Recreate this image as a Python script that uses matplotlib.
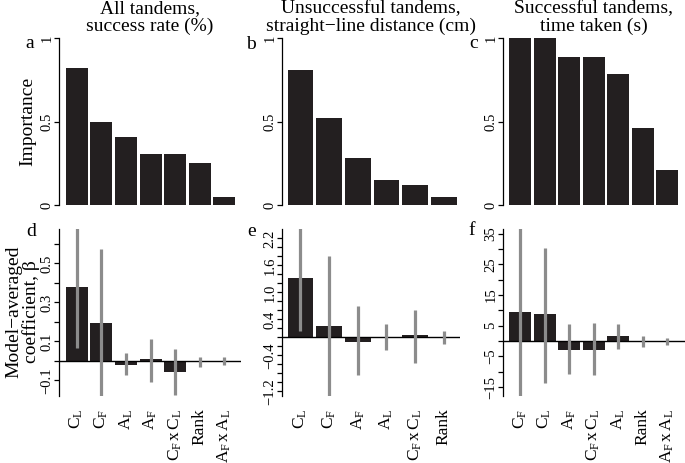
import numpy as np
import matplotlib
matplotlib.use("Agg")
import matplotlib.pyplot as plt

plt.rcParams['font.family'] = ['Liberation Serif', 'DejaVu Serif']
plt.rcParams['mathtext.fontset'] = 'custom'
plt.rcParams['mathtext.rm'] = 'Liberation Serif'
plt.rcParams['mathtext.it'] = 'Liberation Serif:italic'

# labels (subscripted variable names)
CL = r'$\mathrm{C_L}$'
CF = r'$\mathrm{C_F}$'
AL = r'$\mathrm{A_L}$'
AF = r'$\mathrm{A_F}$'
CFxCL = r'$\mathrm{C_F\,x\,C_L}$'
RANK = 'Rank'
AFxAL = r'$\mathrm{A_F\,x\,A_L}$'

labels_a = [CL, CF, AL, AF, CFxCL, RANK, AFxAL]
labels_b = [CL, CF, AF, AL, CFxCL, RANK]
labels_c = [CF, CL, AF, CFxCL, AL, RANK, AFxAL]

# importance (top row)
imp_a = [0.82, 0.50, 0.41, 0.305, 0.305, 0.253, 0.048]
imp_b = [0.81, 0.52, 0.283, 0.149, 0.122, 0.05]
imp_c = [1.0, 1.0, 0.886, 0.886, 0.783, 0.462, 0.207]

# model-averaged coefficients with CI (bottom row)
coef_d = [0.38, 0.194, -0.02, 0.008, -0.058, -0.005, 0.0]
lo_d = [0.065, -0.25, -0.072, -0.107, -0.175, -0.03, -0.019]
hi_d = [0.75, 0.572, 0.04, 0.112, 0.062, 0.022, 0.019]

coef_e = [1.32, 0.26, -0.09, 0.02, 0.05, 0.0]
lo_e = [0.15, -1.6, -0.84, -0.28, -0.56, -0.15]
hi_e = [2.6, 1.82, 0.69, 0.30, 0.62, 0.15]

coef_f = [9.6, 8.7, -2.9, -2.9, 1.7, -0.4, -0.2]
lo_f = [-20, -13.6, -10.7, -11.1, -2.5, -2.0, -1.3]
hi_f = [40, 30.2, 5.5, 5.8, 5.5, 1.6, 1.0]

titles = ["All tandems,\nsuccess rate (%)",
          "Unsuccessful tandems,\nstraight\u2212line distance (cm)",
          "Successful tandems,\ntime taken (s)"]

bar_col = '#231f20'
err_col = '#8c8c8c'
pitch = 1.12

W, H = 685, 463
fig = plt.figure(figsize=(W / 100, H / 100), dpi=100)

# axes boxes in pixels: (left, right)
cols = [(59, 241), (282, 460), (503, 685)]
rows = [(38, 205), (229, 396)]
xlims = [(-0.8, 7.47), (-0.72, 6.23), (-0.78, 7.54)]


def make_ax(col, row):
    l, r = cols[col]
    t, b = rows[row]
    ax = fig.add_axes([l / W, 1 - b / H, (r - l) / W, (b - t) / H])
    for s in ['top', 'right', 'bottom']:
        ax.spines[s].set_visible(False)
    ax.spines['left'].set_linewidth(0.9)
    ax.tick_params(axis='y', length=3.5, width=0.9, pad=0.5, labelsize=10.5)
    ax.set_xlim(*xlims[col])
    return ax


def rot_yticks(ax):
    for t in ax.get_yticklabels():
        t.set_rotation(90)
        t.set_va('center')


# top row
for i, (vals, title) in enumerate(zip([imp_a, imp_b, imp_c], titles)):
    ax = make_ax(i, 0)
    x = np.arange(len(vals)) * pitch
    ax.bar(x, vals, width=1.0, color=bar_col)
    ax.set_ylim(0, 1)
    ax.set_yticks([0, 0.5, 1])
    ax.set_yticklabels(['0', '0.5', '1'])
    rot_yticks(ax)
    ax.set_xticks([])
    ax.set_title(title, fontsize=14, pad=4.8, linespacing=1.05)

# bottom row
bottom = [
    (coef_d, lo_d, hi_d, labels_a, (-0.18, 0.677),
     np.arange(-0.1, 0.65, 0.1), [-0.1, 0.1, 0.3, 0.5], '%.1f'),
    (coef_e, lo_e, hi_e, labels_b, (-1.30, 2.41),
     np.arange(-1.2, 2.3, 0.2), [-1.2, -0.4, 0.4, 1.0, 1.6, 2.2], '%.1f'),
    (coef_f, lo_f, hi_f, labels_c, (-17.9, 36.5),
     np.arange(-15, 36, 5), [-15, -5, 5, 15, 25, 35], '%d'),
]
for i, (coef, lo, hi, labs, ylim, ticks, shown, fmt) in enumerate(bottom):
    ax = make_ax(i, 1)
    x = np.arange(len(coef)) * pitch
    ax.bar(x, coef, width=1.0, color=bar_col, zorder=2)
    ax.axhline(0, color='black', lw=1.0, zorder=3)
    ax.vlines(x, lo, hi, color=err_col, lw=2.3, zorder=4)
    ax.set_ylim(*ylim)
    ax.set_yticks(ticks)
    txt = []
    for t in ticks:
        hit = [s for s in shown if abs(s - t) < 1e-6]
        txt.append((fmt % hit[0]).replace('-', '\u2212') if hit else '')
    ax.set_yticklabels(txt)
    rot_yticks(ax)
    ax.set_xticks(x)
    ax.set_xticklabels(labs, rotation=90, va='top', ha='center', fontsize=12.5)
    ax.tick_params(axis='x', length=0, pad=9)

# panel letters
for letter, px, py in [('a', 30, 48), ('b', 251, 49), ('c', 474, 48),
                       ('d', 31, 236), ('e', 252, 236), ('f', 472, 235)]:
    fig.text(px / W, 1 - py / H, letter, fontsize=14, ha='center', va='baseline')

fig.text(27.5 / W, 1 - 121.5 / H, 'Importance', rotation=90, fontsize=14,
         ha='center', va='center')
fig.text(23 / W, 1 - 312 / H, 'Model\u2212averaged\ncoefficient, \u03b2', rotation=90,
         fontsize=14, ha='center', va='center', linespacing=1.0)

fig.savefig('out.png', dpi=100)
